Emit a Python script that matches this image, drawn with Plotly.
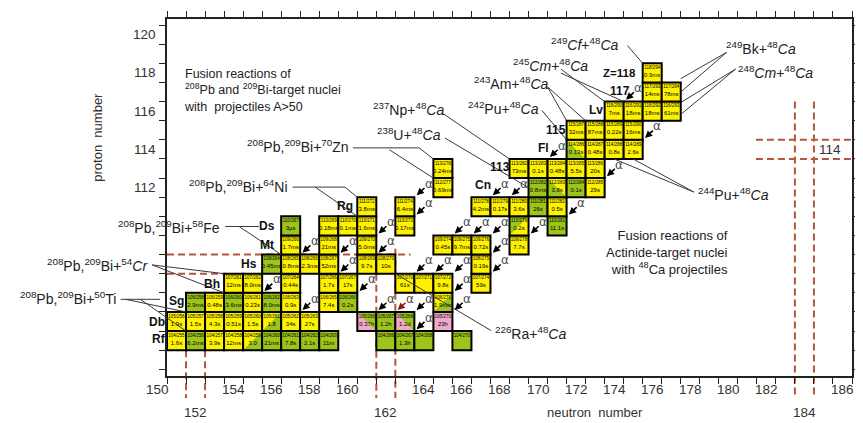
import plotly.graph_objects as go

# ---------------- data ----------------
# nuclide cells (neutron number N, proton number Z, half-life label, colour, split colour:triangle)
cell_N = [151,152,153,154,155,156,157,158,159,162,163,164,166,
          151,152,153,154,155,156,157,158,161,162,163,165,
          152,153,154,155,156,157,159,160,165,
          154,155,157,159,160,163,164,165,167,
          156,157,158,159,161,162,167,
          157,159,161,165,166,167,169,
          157,159,160,161,163,169,171,
          161,163,167,168,169,170,171,
          165,170,171,172,173,
          165,169,170,171,172,173,
          172,173,174,175,
          172,173,174,175,
          174,175,176,177,
          176,177,
          176]
cell_Z = ([104]*13 + [105]*12 + [106]*9 + [107]*9 + [108]*7 + [109]*7 + [110]*7 +
          [111]*7 + [112]*5 + [113]*6 + [114]*4 + [115]*4 + [116]*4 + [117]*2 + [118])
cell_halflife = ["1.6s","6.2ms","3.9s","12ms","3.0","21ms","7.8s","2.1s","11m","","1.3h","","",
                 "1.9s","1.5s","4.3s","0.51s","1.5s","1.8","34s","27s","0.37h","1.2h","1.2d","23h",
                 "2.9ms","0.48s","3.6ms","0.23s","8.0ms","0.9s","7.4s","0.2s","1.9min",
                 "12ms","8.0ms","0.44s","1.7s","17s","61s","","9.8s","59s",
                 "0.45ms","0.8ms","2.3ms","52ms","9.7s","10s","0.19s",
                 "1.7ms","21ms","5.0ms","0.45s","9.7ms","0.72s","7.7s",
                 "3µs","0.18ms","0.1ms","1.6ms","0.17ms","0.2s","11.1s",
                 "3.8ms","6.4ms","4.2ms","0.17s","3.6s","26s","0.5s",
                 "0.69ms","0.8ms","3.8s","0.1s","29s",
                 "0.24ms","73ms","0.1s","0.48s","5.5s","20s",
                 "0.13s","0.48s","0.8s","2.6s",
                 "32ms","87ms","0.22s","16ms",
                 "7ms","18ms","18ms","61ms",
                 "14ms","78ms",
                 "0.9ms"]
cell_colour = ["Y","G","Y","Y","Y","G","G","G","G","G","G","G","G",
               "Y","Y","Y","Y","Y","Y","Y","Y","G","G","G","P",
               "G","Y","G","Y","G","Y","Y","G","Y",
               "Y","Y","Y","Y","Y","Y","Y","Y","Y",
               "G","Y","Y","Y","Y","Y","Y",
               "Y","Y","Y","Y","Y","Y","Y",
               "G","Y","Y","Y","Y","Y","G",
               "Y","Y","Y","Y","Y","G","Y",
               "Y","G","Y","G","Y",
               "Y","Y","Y","Y","Y","Y",
               "Y","Y","Y","Y",
               "Y","Y","Y","Y",
               "Y","Y","Y","Y",
               "Y","Y",
               "Y"]
cell_split = {(155,104):"G:LR", (156,105):"G:LR", (161,105):"P:LL", (163,105):"P:LL",
              (165,106):"G:LR", (169,110):"G:UL", (171,112):"G:LL", (172,114):"G:LL"}

# alpha-decay arrows (cell in which each arrow is drawn)
alpha_N = [156,158,158,160,162,162,160,161,162,163,164,164,166,166,164,165,166,
           164,164,166,167,168,168,168,168,169,170,172,174,171,175,176]
alpha_Z = [107,106,109,109,109,110,108,107,106,106,106,105,106,107,108,108,108,
           111,112,110,110,110,109,108,112,112,110,111,113,114,117,115]
alpha_red = [(163,106)]

# element labels
elem_text = ["Rf","Db","Sg","Bh","Hs","Mt","Ds","Rg","Cn","113","Fl","115","Lv","117","Z=118"]
elem_N = [150.08,149.95,150.99,152.86,154.79,155.77,155.77,159.88,167.1,167.98,170.27,170.94,173.05,174.29,174.29]
elem_Z = [104.06,104.98,106.06,106.96,107.99,108.99,109.99,111.05,112.13,113.08,114.08,115.0,116.04,117.06,118.02]

# axis tick labels
xtick_main = [150,154,156,158,160,164,166,168,170,172,174,176,178,180,182,186]
xtick_shell = [152,162,184]
ytick_vals = [112,114,116,118,120]

X_RANGE = [150.5, 186.5]
Y_RANGE = [102.15, 120.82]

COL = {"Y": "#FFF200", "G": "#9CC41A", "P": "#F2A8C8"}
DASH = "#B4573D"
LINE = "#3a3a3a"


def xp(n):
    return (n - X_RANGE[0]) / (X_RANGE[1] - X_RANGE[0])


def yp(z):
    return (z - Y_RANGE[0]) / (Y_RANGE[1] - Y_RANGE[0])


shapes = []
annos = []

# ---------- dashed magic-number lines ----------
def dline(n0, z0, n1, z1):
    shapes.append(dict(type="line", xref="paper", yref="paper", x0=xp(n0), y0=yp(z0),
                       x1=xp(n1), y1=yp(z1), layer="below",
                       line=dict(color=DASH, width=2, dash="7px,4px")))

dline(150.5, 108.5, 163.3, 108.5)
dline(150.5, 107.5, 153.6, 107.5)
dline(151.5, 103.5, 151.5, 101.0)
dline(152.5, 103.5, 152.5, 101.0)
dline(161.5, 107.5, 161.5, 101.0)
dline(162.5, 108.8, 162.5, 101.0)
dline(183.5, 116.5, 183.5, 101.0)
dline(184.5, 116.5, 184.5, 101.0)
dline(181.45, 114.5, 186.7, 114.5)
dline(181.45, 113.5, 186.7, 113.5)

# ---------- nuclide cells ----------
hx, hy, ht, lx, ly, lt = [], [], [], [], [], []
for n, z, t, c in zip(cell_N, cell_Z, cell_halflife, cell_colour):
    x0, x1, y0, y1 = n - 0.5, n + 0.5, z - 0.5, z + 0.5
    sp = cell_split.get((n, z))
    if sp:
        shapes.append(dict(type="rect", xref="x", yref="y", x0=x0, x1=x1, y0=y0, y1=y1,
                           fillcolor=COL[c], line=dict(width=0), layer="below"))
        c2, tri = sp.split(":")
        pts = {"LR": [(x0, y0), (x1, y0), (x1, y1)],
               "UL": [(x0, y0), (x0, y1), (x1, y1)],
               "LL": [(x0, y0), (x1, y0), (x0, y1)],
               "UR": [(x1, y1), (x0, y1), (x1, y0)]}[tri]
        path = "M {},{} L {},{} L {},{} Z".format(*[v for p in pts for v in p])
        shapes.append(dict(type="path", xref="x", yref="y", path=path,
                           fillcolor=COL[c2], line=dict(width=0), layer="below"))
        shapes.append(dict(type="rect", xref="x", yref="y", x0=x0, x1=x1, y0=y0, y1=y1,
                           fillcolor="rgba(0,0,0,0)", line=dict(color="black", width=2),
                           layer="below"))
    else:
        shapes.append(dict(type="rect", xref="x", yref="y", x0=x0, x1=x1, y0=y0, y1=y1,
                           fillcolor=COL[c], line=dict(color="black", width=2), layer="below"))
    hx.append(n); hy.append(z + 0.26); ht.append(f"{z}/{z + n}")
    if t:
        lx.append(n); ly.append(z - 0.14); lt.append(t)

# ---------- leader lines ----------
def lead(n0, z0, n1, z1):
    shapes.append(dict(type="line", xref="paper", yref="paper", x0=xp(n0), y0=yp(z0),
                       x1=xp(n1), y1=yp(z1), layer="above", line=dict(color=LINE, width=1)))

# 50Ti
lead(148.06, 106.16, 150.14, 106.16)
lead(148.32, 106.16, 151.5, 105.5)
lead(149.1, 106.16, 151.5, 104.5)
# 54Cr
lead(149.72, 107.96, 153.5, 107.5)
lead(149.72, 107.96, 153.5, 106.5)
# 58Fe
lead(153.56, 109.97, 155.33, 109.97)
lead(154.29, 109.97, 156.5, 108.5)
# 64Ni
lead(157.1, 112.03, 159.85, 112.03)
lead(159.85, 112.03, 160.5, 111.5)
lead(158.29, 112.03, 160.5, 110.5)
# 70Zn
lead(160.27, 114.08, 163.75, 114.08)
lead(163.75, 114.08, 164.5, 113.5)
lead(162.19, 113.98, 164.5, 112.5)
# actinide targets
lead(165.0, 115.88, 168.5, 113.5)       # 237Np
lead(165.1, 114.6, 169.5, 112.0)        # 238U
lead(170.2, 116.04, 171.5, 114.5)       # 242Pu
lead(170.5, 117.27, 171.5, 115.5)       # 243Am
lead(170.5, 117.27, 172.5, 115.5)
lead(171.2, 118.2, 173.5, 116.5)        # 245Cm
lead(171.2, 117.99, 174.5, 116.5)
lead(174.7, 119.43, 175.5, 118.5)       # 249Cf
lead(179.9, 119.07, 177.5, 117.7)       # 249Bk
lead(179.9, 119.07, 177.5, 117.0)
lead(180.38, 118.2, 177.5, 116.45)      # 248Cm
lead(180.38, 118.2, 177.5, 115.83)
lead(178.19, 111.77, 174.0, 113.5)      # 244Pu
lead(178.19, 111.77, 175.0, 113.5)
lead(162.5, 107.5, 167.54, 104.52)      # 226Ra

# ---------- alpha arrows ----------
for n, z in zip(alpha_N, alpha_Z):
    col = "#8B1A1A" if (n, z) in alpha_red else "black"
    annos.append(dict(x=n - 0.38, y=z - 0.4, ax=n + 0.27, ay=z + 0.2,
                      xref="x", yref="y", axref="x", ayref="y", text="α",
                      showarrow=True, arrowhead=2, arrowsize=0.9, arrowwidth=1.6,
                      arrowcolor=col, standoff=0, borderpad=0,
                      font=dict(size=12, color="#4a4a4a", family="DejaVu Sans")))

FONT = "Arial, Liberation Sans, sans-serif"

def label(text, n, z, anchor="center", size=12.5, color="#222", bold=False, align="left"):
    if bold:
        text = "<b>" + text + "</b>"
    annos.append(dict(x=xp(n), y=yp(z), xref="paper", yref="paper", text=text,
                      showarrow=False, xanchor=anchor, yanchor="middle", align=align,
                      font=dict(size=size, color=color, family=FONT)))

for t, n, z in zip(elem_text, elem_N, elem_Z):
    label(t, n, z, size=12 if t != "Z=118" else 11.5, color="#111", bold=True)

# reaction labels
RS = 14
label("<sup>208</sup>Pb,<sup>209</sup>Bi+<sup>50</sup>Ti", 147.95, 106.22, "right", size=RS)
label("<sup>208</sup>Pb,<sup>209</sup>Bi+<sup>54</sup><i>Cr</i>", 149.62, 107.96, "right", size=RS)
label("<sup>208</sup>Pb,<sup>209</sup>Bi+<sup>58</sup>Fe", 153.41, 109.92, "right", size=RS)
label("<sup>208</sup>Pb,<sup>209</sup>Bi+<sup>64</sup>Ni", 156.99, 112.08, "right", size=RS)
label("<sup>208</sup>Pb,<sup>209</sup>Bi+<sup>70</sup>Zn", 160.16, 114.19, "right", size=RS)
label("Fusion reactions of<br><sup>208</sup>Pb and <sup>209</sup>Bi-target nuclei<br>with  projectiles A>50",
      151.28, 117.06, "left", size=12.5)
label("<sup>237</sup>Np+<sup>48</sup><i>Ca</i>", 161.2, 116.09, "left", size=RS)
label("<sup>238</sup>U+<sup>48</sup><i>Ca</i>", 161.41, 114.8, "left", size=RS)
label("<sup>242</sup>Pu+<sup>48</sup><i>Ca</i>", 166.24, 116.19, "left", size=RS)
label("<sup>243</sup>Am+<sup>48</sup><i>Ca</i>", 166.55, 117.48, "left", size=RS)
label("<sup>245</sup><i>Cm</i>+<sup>48</sup><i>Ca</i>", 168.58, 118.4, "left", size=RS)
label("<sup>249</sup><i>Cf</i>+<sup>48</sup><i>Ca</i>", 170.55, 119.53, "left", size=RS)
label("<sup>249</sup>Bk+<sup>48</sup><i>Ca</i>", 179.75, 119.28, "left", size=RS)
label("<sup>248</sup><i>Cm</i>+<sup>48</sup><i>Ca</i>", 180.38, 118.04, "left", size=RS)
label("<sup>244</sup>Pu+<sup>48</sup><i>Ca</i>", 178.3, 111.67, "left", size=RS)
label("<sup>226</sup>Ra+<sup>48</sup><i>Ca</i>", 167.64, 104.42, "left", size=RS)
label("Fusion reactions of<br>Actinide-target nuclei<br>with <sup>48</sup>Ca projectiles",
      180.11, 108.63, "right", size=13, align="right")
label("114", 185.33, 113.98, "center", size=13.5, color="#333")

# axis tick labels and titles
for v in xtick_main:
    annos.append(dict(x=xp(v), y=0, xref="paper", yref="paper", text=str(v), showarrow=False,
                      xanchor="center", yanchor="top", yshift=-4,
                      font=dict(size=13.5, color="#333", family=FONT)))
for v in xtick_shell:
    annos.append(dict(x=xp(v), y=0, xref="paper", yref="paper", text=str(v), showarrow=False,
                      xanchor="center", yanchor="top", yshift=-27,
                      font=dict(size=13.5, color="#333", family=FONT)))
for v in ytick_vals:
    annos.append(dict(x=0, y=yp(v), xref="paper", yref="paper", text=str(v), showarrow=False,
                      xanchor="right", yanchor="middle", xshift=-9,
                      font=dict(size=13.5, color="#333", family=FONT)))
annos.append(dict(x=xp(172.99), y=0, xref="paper", yref="paper", text="neutron  number",
                  showarrow=False, xanchor="center", yanchor="top", yshift=-27,
                  font=dict(size=13, color="#333", family=FONT)))
annos.append(dict(x=xp(146.86), y=yp(114.65), xref="paper", yref="paper", text="proton  number",
                  showarrow=False, xanchor="center", yanchor="middle", textangle=-90,
                  font=dict(size=13, color="#333", family=FONT)))

fig = go.Figure()
fig.add_trace(go.Scatter(x=hx, y=hy, text=ht, mode="text", hoverinfo="skip",
                         textfont=dict(size=4.5, color="black", family=FONT)))
fig.add_trace(go.Scatter(x=lx, y=ly, text=lt, mode="text", hoverinfo="skip",
                         textfont=dict(size=6, color="black", family=FONT)))

half_x = [150.5 + i for i in range(37)]
half_y = [102.5 + i for i in range(19)]
# the page body adds an 8 px offset, so the figure is 8 px smaller than the window
fig.update_layout(
    width=855, height=415,
    margin=dict(l=159, r=3, t=5, b=47),
    paper_bgcolor="white", plot_bgcolor="rgba(0,0,0,0)",
    showlegend=False,
    shapes=shapes, annotations=annos,
    xaxis=dict(range=X_RANGE, tickvals=half_x, showticklabels=False, ticks="outside",
               ticklen=6, tickwidth=1.2, tickcolor="#222", showline=True, linecolor="#222",
               linewidth=1.5, mirror="ticks", showgrid=False, zeroline=False),
    yaxis=dict(range=Y_RANGE, tickvals=half_y, showticklabels=False, ticks="outside",
               ticklen=6, tickwidth=1.2, tickcolor="#222", showline=True, linecolor="#222",
               linewidth=1.5, mirror="ticks", showgrid=False, zeroline=False),
)
fig.write_html("out.html")
